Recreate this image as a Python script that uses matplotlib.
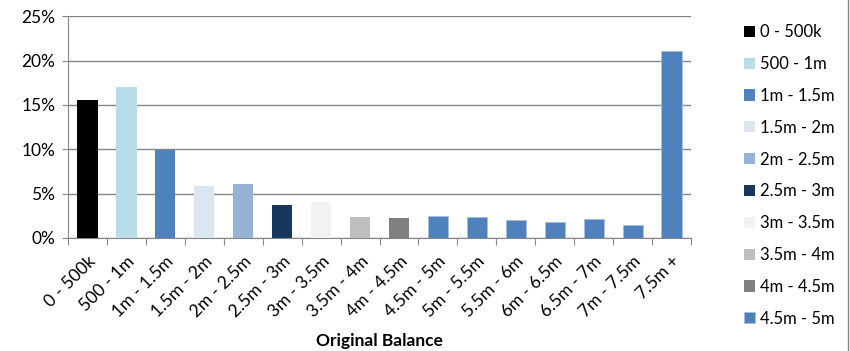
import matplotlib.pyplot as plt
from matplotlib.lines import Line2D

plt.rcParams['font.family'] = ['Lato', 'DejaVu Sans']

categories = ['0 - 500k', '500 - 1m', '1m - 1.5m', '1.5m - 2m', '2m - 2.5m', '2.5m - 3m',
              '3m - 3.5m', '3.5m - 4m', '4m - 4.5m', '4.5m - 5m', '5m - 5.5m', '5.5m - 6m',
              '6m - 6.5m', '6.5m - 7m', '7m - 7.5m', '7.5m +']
values = [15.6, 17.0, 9.9, 5.85, 6.05, 3.7, 4.05, 2.4, 2.25, 2.45, 2.4, 2.0, 1.8, 2.1, 1.45, 21.1]
colors = ['#000000', '#B7DEE8', '#4F81BD', '#DCE6F2', '#95B3D7', '#17375E',
          '#F2F2F2', '#BFBFBF', '#808080', '#4F81BD', '#4F81BD', '#4F81BD',
          '#4F81BD', '#4F81BD', '#4F81BD', '#4F81BD']
yticks = [0, 5, 10, 15, 20, 25]

fig = plt.figure(figsize=(8.5, 3.51), dpi=100)
ax = fig.add_axes([0.08, 0.322, 0.733, 0.632])

x = range(len(categories))
bars = ax.bar(x, values, width=0.52, color=colors, zorder=3)
for b in list(bars)[9:]:
    b.set_edgecolor('#A7BFDE')
    b.set_linewidth(0.6)

ax.set_xlim(-0.5, len(categories) - 0.5)
ax.set_ylim(0, 25)
ax.set_yticks(yticks)
ax.set_yticklabels([f'{v}%' for v in yticks], fontsize=12.5)
ax.yaxis.grid(True, color='#868686', linewidth=1, zorder=0)
ax.tick_params(axis='y', length=4, color='#868686', pad=5)

ax.set_xticks([i - 0.5 for i in range(len(categories) + 1)], minor=False)
ax.set_xticklabels([''] * (len(categories) + 1))
ax.set_xticks(list(x), minor=True)
ax.set_xticklabels(categories, minor=True, rotation=45, ha='right', rotation_mode='anchor', fontsize=12.5)
ax.tick_params(axis='x', which='major', length=5, color='#868686')
ax.tick_params(axis='x', which='minor', length=0, pad=11)

for s in ['top', 'right']:
    ax.spines[s].set_visible(False)
for s in ['left', 'bottom']:
    ax.spines[s].set_color('#868686')

ax.set_xlabel('Original Balance', fontsize=12.5, fontweight='bold', labelpad=9)

leg = fig.legend(bars[:10], categories[:10], loc='upper left', bbox_to_anchor=(0.868, 0.95),
                 frameon=False, fontsize=12, handlelength=0.65, handleheight=0.65,
                 handletextpad=0.3, labelspacing=0.95, borderaxespad=0)

fig.add_artist(Line2D([0.9976, 0.9976], [0, 1], color='#868686', linewidth=1))

fig.savefig('out.png', dpi=100)
